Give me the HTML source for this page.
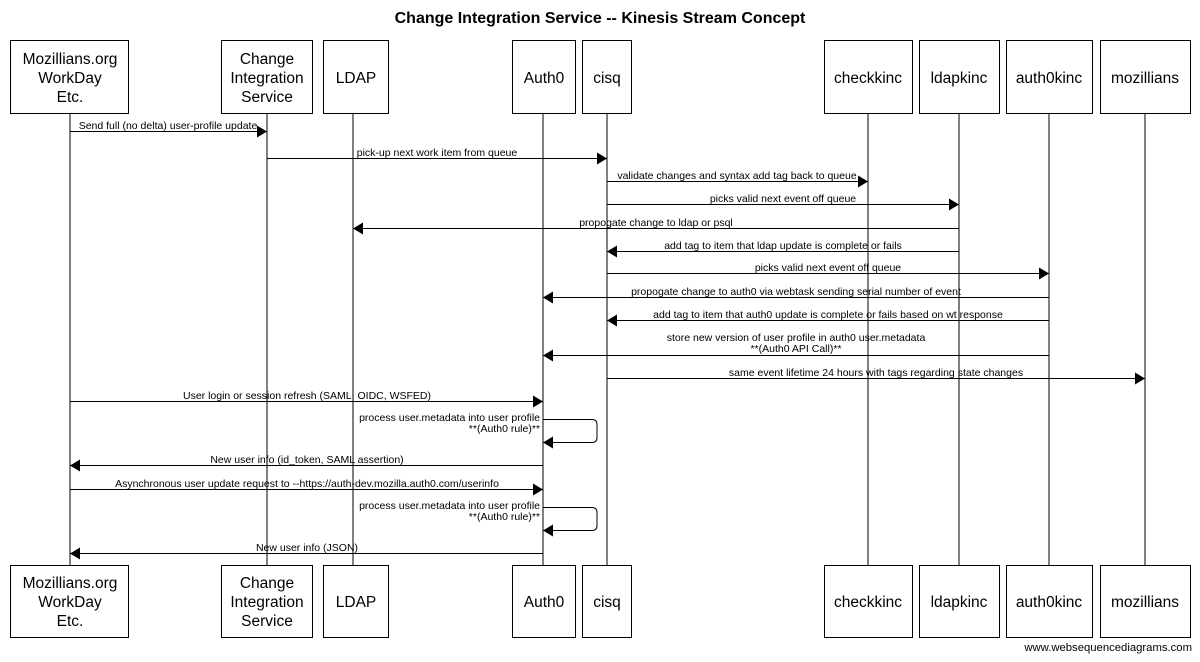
<!DOCTYPE html>
<html><head><meta charset="utf-8"><style>
html,body{margin:0;padding:0;background:#fff;}
svg text{font-family:"Liberation Sans",Arial,sans-serif;}
</style></head><body>
<svg width="1200" height="657" viewBox="0 0 1200 657" xmlns="http://www.w3.org/2000/svg">
<defs>
<marker id="a" markerWidth="10" markerHeight="12" refX="10" refY="6" orient="auto" markerUnits="userSpaceOnUse"><path d="M0,0 L10,6 L0,12 z" fill="#000"/></marker>
</defs>
<text x="600" y="23" text-anchor="middle" font-size="16" font-weight="bold">Change Integration Service -- Kinesis Stream Concept</text>
<g stroke="#000" stroke-width="1">
<line x1="70" y1="113" x2="70" y2="565"/>
<line x1="267" y1="113" x2="267" y2="565"/>
<line x1="353" y1="113" x2="353" y2="565"/>
<line x1="543" y1="113" x2="543" y2="565"/>
<line x1="607" y1="113" x2="607" y2="565"/>
<line x1="868" y1="113" x2="868" y2="565"/>
<line x1="959" y1="113" x2="959" y2="565"/>
<line x1="1049" y1="113" x2="1049" y2="565"/>
<line x1="1145" y1="113" x2="1145" y2="565"/>
</g>
<g fill="#fff" stroke="#000" stroke-width="1">
<rect x="10.5" y="40.5" width="118" height="73"/><rect x="221.5" y="40.5" width="91" height="73"/><rect x="323.5" y="40.5" width="65" height="73"/><rect x="512.5" y="40.5" width="63" height="73"/><rect x="582.5" y="40.5" width="49" height="73"/><rect x="824.5" y="40.5" width="88" height="73"/><rect x="919.5" y="40.5" width="80" height="73"/><rect x="1006.5" y="40.5" width="86" height="73"/><rect x="1100.5" y="40.5" width="90" height="73"/>
<rect x="10.5" y="565.5" width="118" height="72"/><rect x="221.5" y="565.5" width="91" height="72"/><rect x="323.5" y="565.5" width="65" height="72"/><rect x="512.5" y="565.5" width="63" height="72"/><rect x="582.5" y="565.5" width="49" height="72"/><rect x="824.5" y="565.5" width="88" height="72"/><rect x="919.5" y="565.5" width="80" height="72"/><rect x="1006.5" y="565.5" width="86" height="72"/><rect x="1100.5" y="565.5" width="90" height="72"/>
</g>
<g font-size="15.5" text-anchor="middle">
<text x="70" y="64">Mozillians.org</text><text x="70" y="83">WorkDay</text><text x="70" y="102">Etc.</text>
<text x="267" y="64">Change</text><text x="267" y="83">Integration</text><text x="267" y="102">Service</text>
<text x="356" y="83">LDAP</text><text x="544" y="83">Auth0</text><text x="607" y="83">cisq</text>
<text x="868" y="83">checkkinc</text><text x="959" y="83">ldapkinc</text><text x="1049" y="83">auth0kinc</text><text x="1145" y="83">mozillians</text>
<text x="70" y="588">Mozillians.org</text><text x="70" y="607">WorkDay</text><text x="70" y="626">Etc.</text>
<text x="267" y="588">Change</text><text x="267" y="607">Integration</text><text x="267" y="626">Service</text>
<text x="356" y="607">LDAP</text><text x="544" y="607">Auth0</text><text x="607" y="607">cisq</text>
<text x="868" y="607">checkkinc</text><text x="959" y="607">ldapkinc</text><text x="1049" y="607">auth0kinc</text><text x="1145" y="607">mozillians</text>
</g>
<g stroke="#000" stroke-width="1" marker-end="url(#a)" fill="none">
<line x1="70" y1="131.5" x2="267" y2="131.5"/>
<line x1="267" y1="158.5" x2="607" y2="158.5"/>
<line x1="607" y1="181.5" x2="868" y2="181.5"/>
<line x1="607" y1="204.5" x2="959" y2="204.5"/>
<line x1="959" y1="228.5" x2="353" y2="228.5"/>
<line x1="959" y1="251.5" x2="607" y2="251.5"/>
<line x1="607" y1="273.5" x2="1049" y2="273.5"/>
<line x1="1049" y1="297.5" x2="543" y2="297.5"/>
<line x1="1049" y1="320.5" x2="607" y2="320.5"/>
<line x1="1049" y1="355.5" x2="543" y2="355.5"/>
<line x1="607" y1="378.5" x2="1145" y2="378.5"/>
<line x1="70" y1="401.5" x2="543" y2="401.5"/>
<path d="M543,419.5 H592 Q597,419.5 597,424.5 V437.5 Q597,442.5 592,442.5 H543"/>
<line x1="543" y1="465.5" x2="70" y2="465.5"/>
<line x1="70" y1="489.5" x2="543" y2="489.5"/>
<path d="M543,507.5 H592 Q597,507.5 597,512.5 V525.5 Q597,530.5 592,530.5 H543"/>
<line x1="543" y1="553.5" x2="70" y2="553.5"/>
</g>
<g font-size="10.5" text-anchor="middle">
<text x="168" y="129">Send full (no delta) user-profile update</text>
<text x="437" y="156">pick-up next work item from queue</text>
<text x="737" y="179">validate changes and syntax add tag back to queue</text>
<text x="783" y="202">picks valid next event off queue</text>
<text x="656" y="226">propogate change to ldap or psql</text>
<text x="783" y="249">add tag to item that ldap update is complete or fails</text>
<text x="828" y="271">picks valid next event off queue</text>
<text x="796" y="295">propogate change to auth0 via webtask sending serial number of event</text>
<text x="828" y="318">add tag to item that auth0 update is complete or fails based on wt response</text>
<text x="796" y="341">store new version of user profile in auth0 user.metadata</text>
<text x="796" y="352">**(Auth0 API Call)**</text>
<text x="876" y="376">same event lifetime 24 hours with tags regarding state changes</text>
<text x="307" y="399">User login or session refresh (SAML, OIDC, WSFED)</text>
<text x="307" y="463">New user info (id_token, SAML assertion)</text>
<text x="307" y="487">Asynchronous user update request to --https://auth-dev.mozilla.auth0.com/userinfo</text>
<text x="307" y="551">New user info (JSON)</text>
</g>
<g font-size="10.5" text-anchor="end">
<text x="540" y="421">process user.metadata into user profile</text>
<text x="540" y="432">**(Auth0 rule)**</text>
<text x="540" y="509">process user.metadata into user profile</text>
<text x="540" y="520">**(Auth0 rule)**</text>
<text x="1192" y="651" font-size="11.3">www.websequencediagrams.com</text>
</g>
</svg>
</body></html>
